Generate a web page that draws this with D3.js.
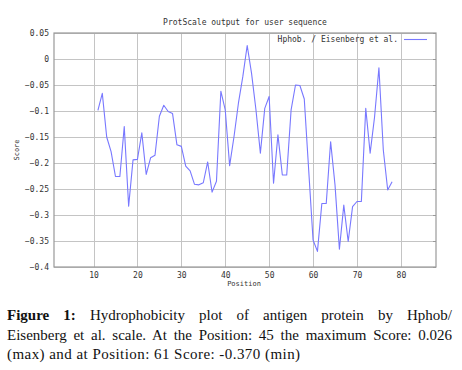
<!DOCTYPE html>
<html>
<head>
<meta charset="utf-8">
<script src="https://cdn.jsdelivr.net/npm/d3@7"></script>
<style>
  body { margin: 0; background: #fff; }
  #chart { position: absolute; left: 0; top: 0; }
  .caption { position: absolute; left: 7px; width: 445px; font-family: "Liberation Serif", serif; font-size: 15px; color: #111; white-space: nowrap; }
  .just { text-align: justify; text-align-last: justify; white-space: normal; }
</style>
</head>
<body>
<svg id="chart" width="462" height="295"></svg>
<div class="caption just" style="top:307px"><b>Figure 1:</b> Hydrophobicity plot of antigen protein by Hphob/</div>
<div class="caption just" style="top:327px">Eisenberg et al. scale. At the Position: 45 the maximum Score: 0.026</div>
<div class="caption" style="top:346px; letter-spacing:0.45px">(max) and at Position: 61 Score: -0.370 (min)</div>
<script>
const positions = [11, 12, 13, 14, 15, 16, 17, 18, 19, 20, 21, 22, 23, 24, 25, 26, 27, 28, 29, 30,
  31, 32, 33, 34, 35, 36, 37, 38, 39, 40, 41, 42, 43, 44, 45, 46, 47, 48, 49, 50,
  51, 52, 53, 54, 55, 56, 57, 58, 59, 60, 61, 62, 63, 64, 65, 66, 67, 68, 69, 70,
  71, 72, 73, 74, 75, 76, 77, 78]
const scores = [-0.099, -0.066, -0.150, -0.178, -0.226, -0.226, -0.130, -0.283, -0.194, -0.193,
  -0.142, -0.222, -0.190, -0.185, -0.110, -0.089, -0.101, -0.105, -0.165, -0.168,
  -0.206, -0.215, -0.241, -0.242, -0.238, -0.198, -0.256, -0.235, -0.062, -0.098,
  -0.205, -0.149, -0.085, -0.034, 0.026, -0.028, -0.098, -0.181, -0.095, -0.072,
  -0.239, -0.146, -0.223, -0.223, -0.098, -0.050, -0.051, -0.077, -0.213, -0.348,
  -0.370, -0.278, -0.278, -0.159, -0.242, -0.366, -0.281, -0.351, -0.284, -0.274,
  -0.274, -0.095, -0.181, -0.112, -0.017, -0.175, -0.252, -0.236]
const xTicks = [10, 20, 30, 40, 50, 60, 70, 80]
const yTicks = [0.05, 0, -0.05, -0.1, -0.15, -0.2, -0.25, -0.3, -0.35, -0.4]

const title = "ProtScale output for user sequence"
const seriesName = "Hphob. / Eisenberg et al."

const margin = { top: 33, right: 26, bottom: 103, left: 54 }
const width = 462, height = 370
const lineColor = "#7878ff"
const mono = "'DejaVu Sans Mono', monospace"

const data = positions.map((p, i) => ({ pos: p, score: scores[i] }))

const x = d3.scaleLinear()
  .domain([1, 88])
  .range([margin.left, width - margin.right])

const y = d3.scaleLinear()
  .domain([-0.4, 0.05])
  .range([height - margin.bottom, margin.top])

const svg = d3.select("#chart")

// grid
svg.append("g")
  .attr("stroke", "#c4c4c4")
  .attr("stroke-width", 1)
  .call(g => g.selectAll(".v").data(xTicks).join("line")
    .attr("x1", d => Math.round(x(d)) + 0.5).attr("x2", d => Math.round(x(d)) + 0.5)
    .attr("y1", y(0.05)).attr("y2", y(-0.4)))
  .call(g => g.selectAll(".h").data(yTicks).join("line")
    .attr("y1", d => Math.round(y(d)) + 0.5).attr("y2", d => Math.round(y(d)) + 0.5)
    .attr("x1", x(1)).attr("x2", x(88)))

const yAxis = g => g
  .attr("transform", `translate(${margin.left},0)`)
  .call(d3.axisLeft(y).tickValues(yTicks).tickSize(0).tickPadding(5)
    .tickFormat(d => d3.format("")(+d.toFixed(2))))
  .call(g => g.select(".domain").remove())
  .call(g => g.selectAll("text").attr("font-family", mono).attr("font-size", 8).attr("fill", "#333"))

const xAxis = g => g
  .attr("transform", `translate(0,${height - margin.bottom})`)
  .call(d3.axisBottom(x).tickValues(xTicks).tickSize(0).tickPadding(5))
  .call(g => g.select(".domain").remove())
  .call(g => g.selectAll("text").attr("font-family", mono).attr("font-size", 8).attr("fill", "#333"))

svg.append("g").call(yAxis)
svg.append("g").call(xAxis)

// right side small ticks
svg.append("g")
  .attr("stroke", "#999")
  .selectAll("line").data(yTicks).join("line")
  .attr("x1", x(88) - 3).attr("x2", x(88))
  .attr("y1", d => Math.round(y(d)) + 0.5).attr("y2", d => Math.round(y(d)) + 0.5)

// frame
svg.append("rect")
  .attr("x", x(1)).attr("y", y(0.05))
  .attr("width", x(88) - x(1)).attr("height", y(-0.4) - y(0.05))
  .attr("fill", "none").attr("stroke", "#999").attr("stroke-width", 1.2)

// the series
svg.append("path")
  .datum(data)
  .attr("fill", "none")
  .attr("stroke", lineColor)
  .attr("stroke-width", 1.1)
  .attr("stroke-linejoin", "round")
  .attr("d", d3.line().x(d => x(d.pos)).y(d => y(d.score)))

// title
svg.append("text")
  .attr("x", 245).attr("y", 25)
  .attr("text-anchor", "middle")
  .attr("font-family", mono).attr("font-size", 8).attr("fill", "#333")
  .text(title)

// axis labels
svg.append("text")
  .attr("x", 244).attr("y", 286)
  .attr("text-anchor", "middle")
  .attr("font-family", mono).attr("font-size", 7).attr("fill", "#333")
  .text("Position")

svg.append("text")
  .attr("transform", "translate(19,150) rotate(-90)")
  .attr("text-anchor", "middle")
  .attr("font-family", mono).attr("font-size", 7).attr("fill", "#333")
  .text("Score")

// legend
svg.append("text")
  .attr("x", 398).attr("y", 42)
  .attr("text-anchor", "end")
  .attr("font-family", mono).attr("font-size", 8).attr("fill", "#333")
  .text(seriesName)

svg.append("line")
  .attr("x1", 404).attr("x2", 427)
  .attr("y1", 39.5).attr("y2", 39.5)
  .attr("stroke", lineColor).attr("stroke-width", 1.1)
</script>
</body>
</html>
